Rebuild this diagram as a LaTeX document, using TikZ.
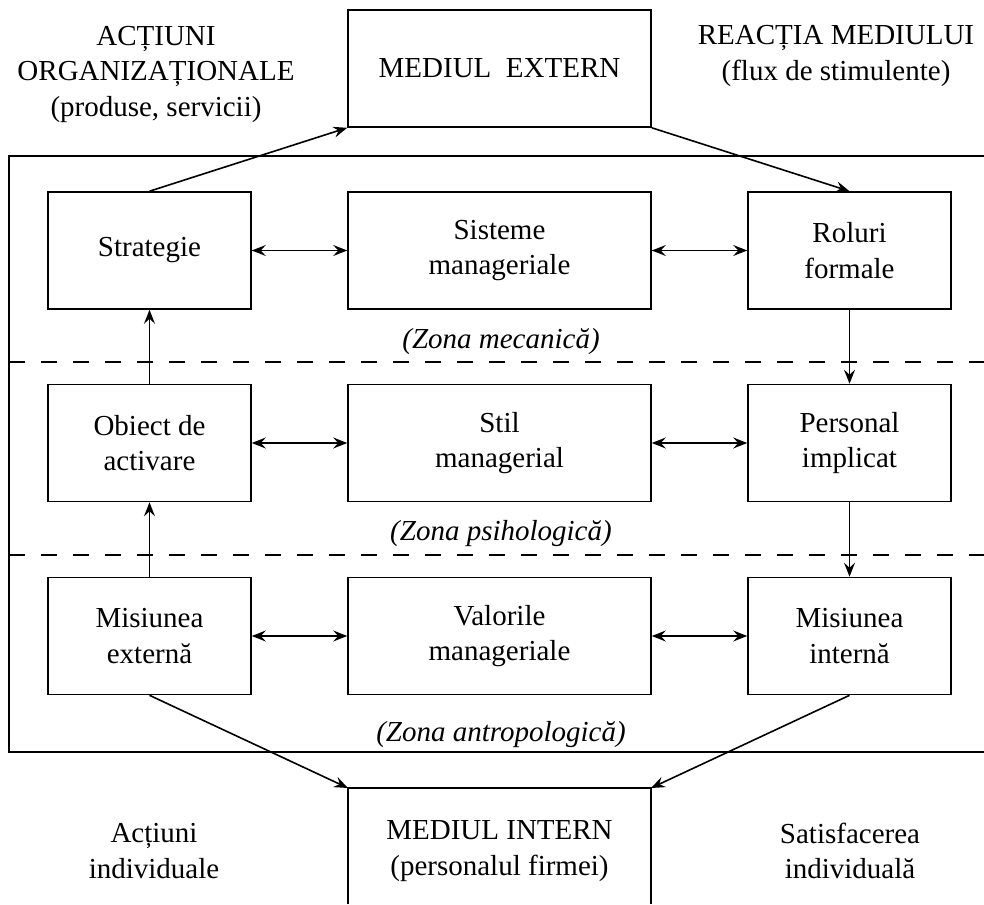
\documentclass[tikz,border=0pt]{standalone}
\usepackage{fontspec}
\setmainfont{Liberation Serif}
\usetikzlibrary{arrows.meta}
\begin{document}
\begin{tikzpicture}[x=0.5pt,y=-0.5pt,
  line width=0.8pt,
  font=\fontsize{14.5}{17.75}\selectfont,
  box/.style={draw, minimum width=101.5pt, minimum height=58.5pt, align=center, inner sep=0pt},
  widebox/.style={box, minimum width=151.5pt},
  zone/.style={font=\fontsize{14.5}{17.75}\selectfont\itshape, inner sep=0pt},
  lbl/.style={align=center, inner sep=0pt},
  tip/.tip={Stealth[length=7pt,width=5.5pt,inset=2.5pt]},
  flow/.style={-tip},
  both/.style={tip-tip},
  sep/.style={dash pattern=on 8pt off 8pt}
]
\useasboundingbox (0,0) rectangle (984,904);

% organisation frame (open on the right) and zone separators
\draw (984,156) -- (9,156) -- (9,752) -- (984,752);
\draw[sep] (9,362) -- (984,362);
\draw[sep] (9,555) -- (984,555);

% external environment
\node[widebox] (ext) at (499.5,68.5) {MEDIUL\ \ EXTERN};
\node[lbl] (act) at (156,74) {ACȚIUNI\\ORGANIZAȚIONALE\\(produse, servicii)};
\node[lbl] (reac) at (836,56) {REACȚIA MEDIULUI\\(flux de stimulente)};

% mechanical zone
\node[box] (strat) at (149.5,250.5) {Strategie};
\node[widebox] (sist) at (499.5,250.5) {Sisteme\\manageriale};
\node[box] (rol) at (849.5,250.5) {Roluri\\formale};
\node[zone] (zmec) at (501,342) {(Zona mecanică)};

% psychological zone
\node[box] (obj) at (149.5,443) {Obiect de\\activare};
\node[widebox] (stil) at (499.5,443) {Stil\\managerial};
\node[box] (pers) at (849.5,443) {Personal\\implicat};
\node[zone] (zpsi) at (501,534) {(Zona psihologică)};

% anthropological zone
\node[box] (misext) at (149.5,636) {Misiunea\\externă};
\node[widebox] (val) at (499.5,636) {Valorile\\manageriale};
\node[box] (misint) at (849.5,636) {Misiunea\\internă};
\node[zone] (zant) at (501,735) {(Zona antropologică)};

% internal environment (box runs past the lower edge)
\coordinate (intNW) at (348,788);
\coordinate (intNE) at (651,788);
\coordinate (intSW) at (348,904);
\coordinate (intSE) at (651,904);
\draw (intSW) -- (intNW) -- (intNE) -- (intSE);
\node[lbl] (int) at (499.5,851) {MEDIUL INTERN\\(personalul firmei)};
\node[lbl] (actind) at (154,851) {Acțiuni\\individuale};
\node[lbl] (satis) at (850,851) {Satisfacerea\\individuală};

% flows
\draw[flow] (strat.north) -- (ext.south west);
\draw[flow] (ext.south east) -- (rol.north);
\draw[flow] (rol.south) -- (pers.north);
\draw[flow] (pers.south) -- (misint.north);
\draw[flow] (misext.north) -- (obj.south);
\draw[flow] (obj.north) -- (strat.south);
\draw[flow] (misext.south) -- (intNW);
\draw[flow] (misint.south) -- (intNE);

% two-way links inside each zone
\draw[both] (strat.east) -- (sist.west);
\draw[both] (sist.east) -- (rol.west);
\draw[both] (obj.east) -- (stil.west);
\draw[both] (stil.east) -- (pers.west);
\draw[both] (misext.east) -- (val.west);
\draw[both] (val.east) -- (misint.west);
\end{tikzpicture}
\end{document}
